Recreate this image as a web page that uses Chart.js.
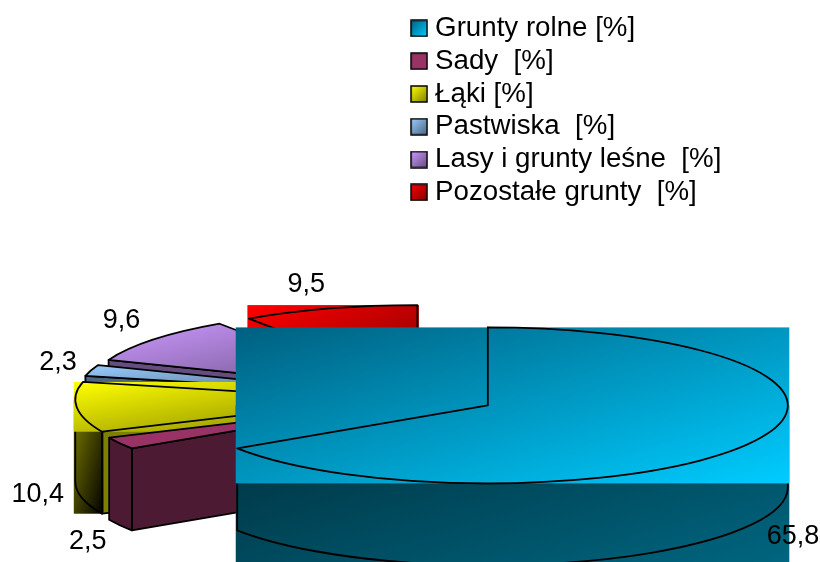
<!DOCTYPE html>
<html>
<head>
<meta charset="utf-8">
<style>
    body { margin: 0; background: #fff; }
</style>
<script src="https://cdn.jsdelivr.net/npm/chart.js@4"></script>
</head>
<body>
<canvas id="myChart" width="820" height="562"></canvas>
<script>
var categories = ["Grunty rolne [%]", "Sady  [%]", "Łąki [%]", "Pastwiska  [%]", "Lasy i grunty leśne  [%]", "Pozostałe grunty  [%]"];
var shares = [65.8, 2.5, 10.4, 2.3, 9.6, 9.5];

var topColors = ["#00ccff", "#993366", "#ffff00", "#99ccff", "#cc99ff", "#ff0000"];
var shadeColors = ["#006080", "#993366", "#808000", "#4d6680", "#664d80", "#800000"];
var sideColors = ["#006680", "#4d1a33", "#808000", "#4d6680", "#664d80", "#800000"];
var wallShade = ["#002d3a", "#4d1a33", "#000000", "#4d6680", "#664d80", "#800000"];

//the reference fills the whole bounding box of these slices, not only the slice
var boxedSlices = [true, false, true, false, false, true];
//label position relative to the middle of the slice's outer edge
var labelShift = [[41, 94], [-32, 98], [-39, 87], [-33, -8], [-32, -19], [-23, -24]];

var tilt = 0.26;
var depth = 82;
var font = "'Liberation Sans', Arial, sans-serif";

function diagonalGradient(ctx, box, first, second) {
    //isolines run along the other diagonal of the box, like the office fill
    var w = box.right - box.left, h = box.bottom - box.top;
    var len = Math.sqrt(w * w + h * h) || 1;
    var span = 2 * w * h / len;
    var g = ctx.createLinearGradient(box.left, box.top, box.left + h / len * span, box.top + w / len * span);
    g.addColorStop(0, first);
    g.addColorStop(1, second);
    return g;
}

function topFill(ctx, i, box) {
    if (i == 0) return diagonalGradient(ctx, box, shadeColors[i], topColors[i]);
    return diagonalGradient(ctx, box, topColors[i], shadeColors[i]);
}

function legendBox(i) {
    var c = document.createElement("canvas");
    c.width = 18;
    c.height = 18;
    var g = c.getContext("2d");
    g.fillStyle = topFill(g, i, { left: 1, top: 1, right: 17, bottom: 17 });
    g.fillRect(1, 1, 16, 16);
    g.strokeStyle = "#000";
    g.lineWidth = 1.5;
    g.strokeRect(1, 1, 16, 16);
    return c;
}

function sliceGeometry(arc) {
    var r = arc.outerRadius;
    var mid = (arc.startAngle + arc.endAngle) / 2;
    var cx = arc.x + Math.cos(mid) * arc.options.offset;
    var cy = arc.y + Math.sin(mid) * arc.options.offset * tilt;
    var box = { left: cx, right: cx, top: cy, bottom: cy };
    for (var k = 0; k <= 60; k++) {
        var a = arc.startAngle + (arc.endAngle - arc.startAngle) * k / 60;
        var px = cx + r * Math.cos(a), py = cy + r * tilt * Math.sin(a);
        box.left = Math.min(box.left, px);
        box.right = Math.max(box.right, px);
        box.top = Math.min(box.top, py);
        box.bottom = Math.max(box.bottom, py);
    }
    return { r: r, mid: mid, cx: cx, cy: cy, box: box, start: arc.startAngle, end: arc.endAngle };
}

function drawSlice(ctx, i, s) {
    var ry = s.r * tilt;

    //cut face
    var sx = s.cx + s.r * Math.cos(s.start), sy = s.cy + ry * Math.sin(s.start);
    ctx.beginPath();
    ctx.moveTo(s.cx, s.cy);
    ctx.lineTo(s.cx, s.cy + depth);
    ctx.lineTo(sx, sy + depth);
    ctx.lineTo(sx, sy);
    ctx.closePath();
    ctx.fillStyle = sideColors[i];
    ctx.fill();
    ctx.stroke();

    //outer wall, only the front half of the ellipse shows
    var a0 = Math.max(s.start, 0), a1 = Math.min(s.end, Math.PI);
    if (a1 > a0) {
        ctx.beginPath();
        ctx.ellipse(s.cx, s.cy, s.r, ry, 0, a0, a1);
        ctx.ellipse(s.cx, s.cy + depth, s.r, ry, 0, a1, a0, true);
        ctx.closePath();
        if (boxedSlices[i]) {
            var x0 = s.cx + s.r * Math.cos(a1), x1 = s.cx + s.r * Math.cos(a0);
            var wall = { left: Math.min(x0, x1) - 1.5, right: Math.max(x0, x1) + 1.5, top: s.cy, bottom: s.box.bottom + depth };
            if (a0 < Math.PI / 2 && a1 > Math.PI / 2) wall.bottom = s.cy + ry + depth;
            if (i == 0) ctx.fillStyle = diagonalGradient(ctx, wall, wallShade[i], sideColors[i]);
            else ctx.fillStyle = diagonalGradient(ctx, wall, sideColors[i], wallShade[i]);
            ctx.fillRect(wall.left, wall.top, wall.right - wall.left, wall.bottom - wall.top);
        } else {
            ctx.fillStyle = sideColors[i];
            ctx.fill();
        }
        ctx.stroke();
    }

    //top face
    ctx.beginPath();
    ctx.moveTo(s.cx, s.cy);
    ctx.ellipse(s.cx, s.cy, s.r, ry, 0, s.start, s.end);
    ctx.closePath();
    ctx.fillStyle = topFill(ctx, i, s.box);
    if (boxedSlices[i]) {
        ctx.fillRect(s.box.left - 1.5, s.box.top, s.box.right - s.box.left + 3, s.box.bottom - s.box.top);
    } else {
        ctx.fill();
    }
    ctx.stroke();
}

var pie3d = {
    id: "pie3d",
    beforeDatasetDraw: function () {
        return false;
    },
    afterLayout: function (chart) {
        //single column legend top right of the pie
        var legend = chart.legend;
        legend.left = 411.85;
        legend.right = 820;
        legend.top = 9.4;
        legend.bottom = 562;
        //legend.draw clips to its box and the swatch sticks out of it
        legend.draw = legend._draw;
    },
    afterDatasetsDraw: function (chart) {
        var ctx = chart.ctx;
        var arcs = chart.getDatasetMeta(0).data;
        ctx.save();
        ctx.strokeStyle = "#000";
        ctx.lineWidth = 1.8;
        ctx.lineJoin = "round";
        //back to front, the big slice goes last
        for (var i = arcs.length - 1; i >= 0; i--) {
            drawSlice(ctx, i, sliceGeometry(arcs[i]));
        }
        ctx.fillStyle = "#000";
        ctx.font = "27px " + font;
        ctx.textAlign = "center";
        ctx.textBaseline = "middle";
        for (var j = 0; j < arcs.length; j++) {
            var s = sliceGeometry(arcs[j]);
            var lx = s.cx + s.r * Math.cos(s.mid) + labelShift[j][0];
            var ly = s.cy + s.r * tilt * Math.sin(s.mid) + labelShift[j][1];
            ctx.fillText(String(shares[j]).replace(".", ","), lx, ly);
        }
        ctx.restore();
    }
};

var myChart = new Chart(document.getElementById("myChart").getContext("2d"), {
    type: "pie",
    data: {
        labels: categories,
        datasets: [{
            data: shares,
            backgroundColor: topColors,
            offset: 60,
            radius: 300
        }]
    },
    plugins: [pie3d],
    options: {
        responsive: false,
        animation: false,
        radius: 300,
        layout: { padding: { left: 50, top: 234 } },
        plugins: {
            tooltip: { enabled: false },
            legend: {
                position: "chartArea",
                align: "start",
                labels: {
                    usePointStyle: true,
                    boxWidth: 4.3,
                    boxHeight: 6,
                    padding: 5.1,
                    color: "#000",
                    font: { family: font, size: 27.7 },
                    generateLabels: function () {
                        return categories.map(function (name, i) {
                            return { text: name, pointStyle: legendBox(i), fontColor: "#000", datasetIndex: 0, index: i };
                        });
                    }
                }
            }
        }
    }
});
</script>
</body>
</html>
